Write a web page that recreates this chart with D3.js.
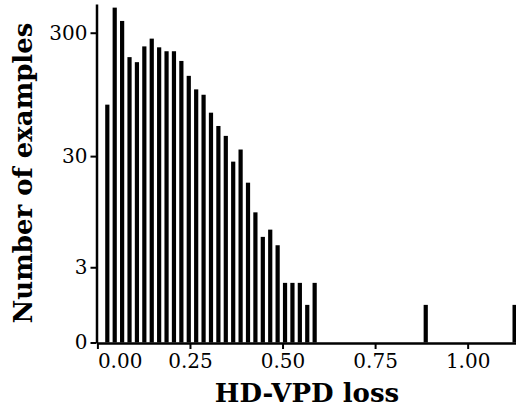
<!DOCTYPE html>
<html>
<head>
<meta charset="utf-8">
<script src="https://cdn.jsdelivr.net/npm/d3@7"></script>
<style>
  body { margin: 0; background: #fff; }
  text { font-family: "DejaVu Serif", serif; fill: #000; }
</style>
</head>
<body>
<div id="chart"></div>
<script>
// histogram bins (start of each bin, width 0.02) and counts
var binWidth = 0.02;
var binStarts = [0.02, 0.04, 0.06, 0.08, 0.10, 0.12, 0.14, 0.16, 0.18, 0.20,
                 0.22, 0.24, 0.26, 0.28, 0.30, 0.32, 0.34, 0.36, 0.38, 0.40,
                 0.42, 0.44, 0.46, 0.48, 0.50, 0.52, 0.54, 0.56, 0.58, 0.88, 1.12];
var counts = [79, 477, 373, 191, 174, 233, 269, 229, 213, 213,
              178, 135, 105, 95, 68, 53, 44, 27, 34, 18,
              10, 6, 7, 5, 2, 2, 2, 1, 2, 1, 1];
var xTicks = [0, 0.25, 0.5, 0.75, 1];
var yTicks = [0, 3, 30, 300];

var svgWidth = 516;
var svgHeight = 409;

var svg = d3.select("#chart").append("svg")
  .attr("width", svgWidth)
  .attr("height", svgHeight);

// scales
var xScale = d3.scaleLinear()
  .domain([0, 1.14])
  .range([97.4, 519.5]);

var yScale = d3.scaleSymlog()
  .constant(1)
  .domain([0, 510])
  .range([342.5, 4]);

var data = binStarts.map(function(s, i) {
  return { x0: s, x1: s + binWidth, n: counts[i] };
});

// bars
svg.append("g")
  .selectAll("rect")
  .data(data)
  .enter()
  .append("rect")
  .attr("x", d => xScale(d.x0) + 0.4)
  .attr("width", d => xScale(d.x1) - xScale(d.x0) - 3.2)
  .attr("y", d => yScale(d.n))
  .attr("height", d => yScale(0) - yScale(d.n))
  .attr("fill", "#000");

// x axis
var xAxis = d3.axisBottom(xScale)
  .tickValues(xTicks)
  .tickFormat(d3.format(".2f"))
  .tickSize(6)
  .tickSizeOuter(0)
  .tickPadding(5);

var gx = svg.append("g")
  .attr("transform", "translate(0, 343)")
  .call(xAxis);
gx.select(".domain").attr("stroke-width", 2.5);
gx.selectAll(".tick line").attr("stroke-width", 2);
gx.selectAll(".tick text")
  .style("font-size", "20px")
  .attr("text-anchor", (d, i) => i === 0 ? "start" : "middle");

// y axis
var yAxis = d3.axisLeft(yScale)
  .tickValues(yTicks)
  .tickFormat(d3.format("d"))
  .tickSize(6)
  .tickSizeOuter(0)
  .tickPadding(3);

var gy = svg.append("g")
  .attr("transform", "translate(96.5, 0)")
  .call(yAxis);
gy.select(".domain").attr("stroke-width", 2.5);
gy.selectAll(".tick line").attr("stroke-width", 2);
gy.selectAll(".tick text").style("font-size", "20px");

// axis titles
svg.append("text")
  .attr("x", 307)
  .attr("y", 402)
  .attr("text-anchor", "middle")
  .style("font-size", "26px")
  .style("font-weight", "bold")
  .text("HD-VPD loss");

svg.append("text")
  .attr("transform", "translate(32, 173) rotate(-90)")
  .attr("text-anchor", "middle")
  .style("font-size", "26px")
  .style("font-weight", "bold")
  .text("Number of examples");
</script>
</body>
</html>
